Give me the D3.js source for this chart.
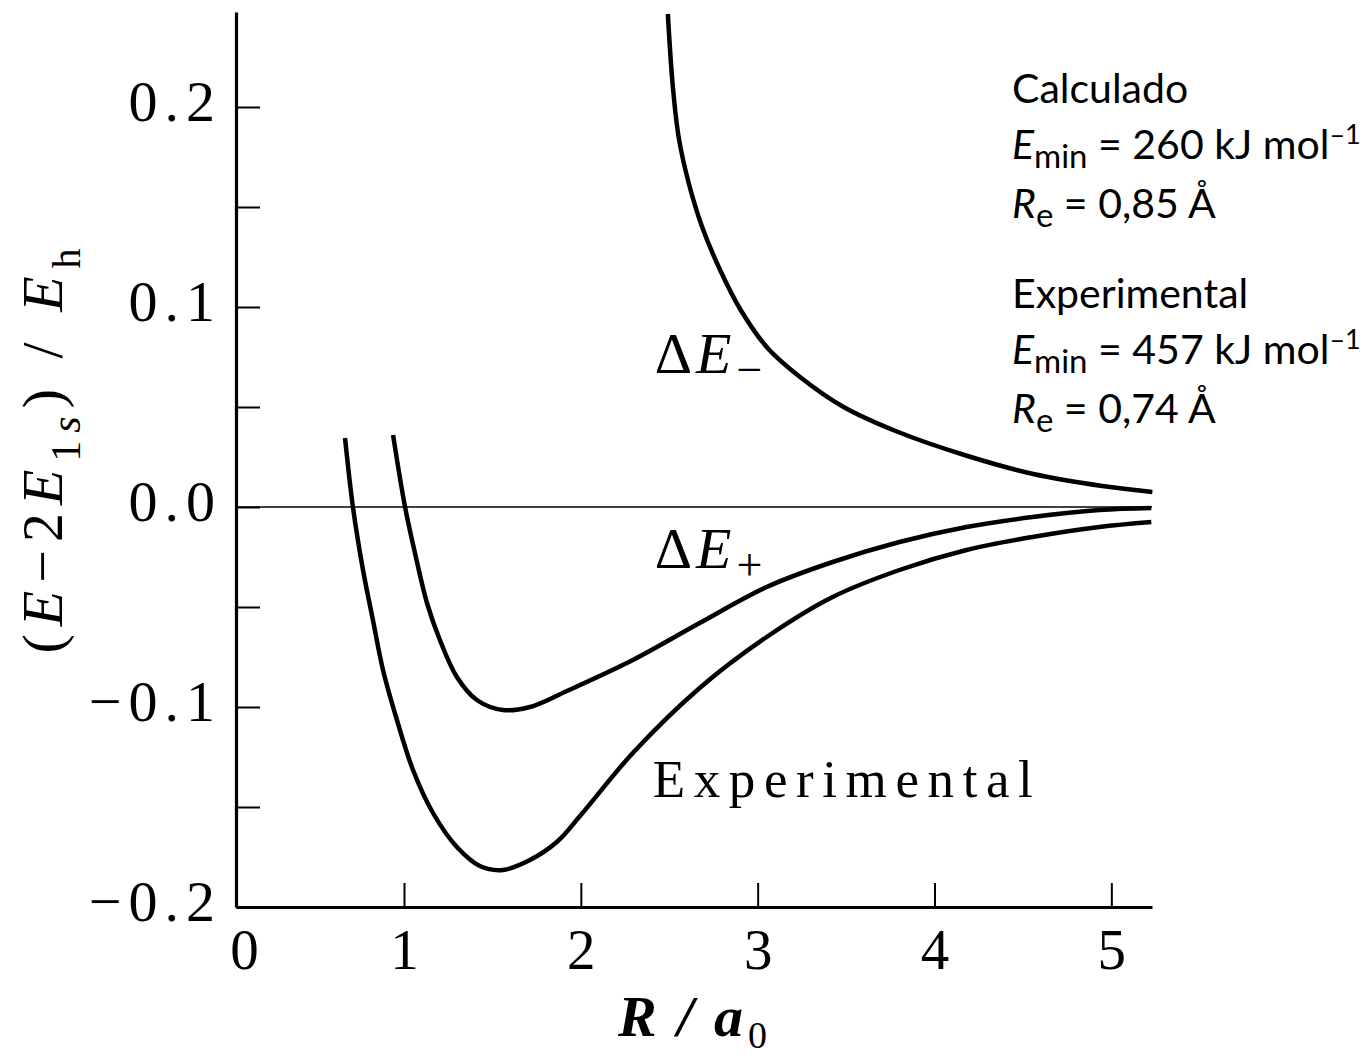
<!DOCTYPE html>
<html>
<head>
  <meta charset="utf-8">
  <style>
    body {
      margin: 0;
      background: white;
    }
    svg {
      display: block;
    }
    .serif {
      font-family: "Liberation Serif", "DejaVu Serif", serif;
    }
    .note {
      font-family: Lato, "Open Sans", sans-serif;
      font-size: 41px;
      fill: #000;
    }
  </style>
</head>
<body>
  <svg id="chart"></svg>
  <script src="https://cdn.jsdelivr.net/npm/d3@7/dist/d3.min.js"></script>
  <script>
    // values: R / a0 against (E - 2E1s) / Eh
    var expR = [0.649, 0.696, 0.756, 0.815, 0.875, 0.958, 1.051, 1.164, 1.299, 1.429, 1.559, 1.712, 1.864, 2.0, 2.294, 2.672, 3.051, 3.424, 3.802, 4.181, 4.554, 4.932, 5.226];
    var expE = [0.0345, 0, -0.0315, -0.0565, -0.0815, -0.1065, -0.1315, -0.153, -0.170, -0.1795, -0.1815, -0.1765, -0.1675, -0.154, -0.123, -0.0905, -0.065, -0.045, -0.0315, -0.0215, -0.015, -0.010, -0.0075];

    var plusR = [0.935, 1.006, 1.062, 1.130, 1.203, 1.299, 1.412, 1.559, 1.712, 1.921, 2.294, 2.672, 3.051, 3.424, 3.802, 4.181, 4.554, 4.932, 5.226];
    var plusE = [0.036, 0, -0.023, -0.048, -0.0665, -0.085, -0.0965, -0.1015, -0.100, -0.092, -0.0765, -0.058, -0.040, -0.0275, -0.0175, -0.010, -0.005, -0.0015, -0.0005];

    var minusR = [2.492, 2.520, 2.554, 2.610, 2.684, 2.785, 2.904, 3.056, 3.254, 3.486, 3.780, 4.169, 4.559, 4.949, 5.232];
    var minusE = [0.2465, 0.2105, 0.1845, 0.162, 0.1405, 0.119, 0.0985, 0.0795, 0.064, 0.050, 0.038, 0.026, 0.0165, 0.0105, 0.0075];

    var xTicks = [0, 1, 2, 3, 4, 5];
    var yTicks = [-0.2, -0.15, -0.1, -0.05, 0, 0.05, 0.1, 0.15, 0.2];
    var yLabelled = [-0.2, -0.1, 0, 0.1, 0.2];

    // text block on the right
    var noteTitles = ["Calculado", "Experimental"];
    var noteEmin = ["260", "457"];
    var noteRe = ["0,85", "0,74"];

    var width = 1372, height = 1060;
    var svg = d3.select("#chart")
      .attr("width", width)
      .attr("height", height);

    // the scan is slightly stretched between 0 and 1, hence the 3-point domain
    var x = d3.scaleLinear()
      .domain([0, 1, 5.23])
      .range([236, 404, 1152]);
    var y = d3.scaleLinear()
      .domain([-0.2, 0.2475])
      .range([907, 12]);

    // zero line
    svg.append("line")
      .attr("x1", x(0)).attr("x2", x(5.23))
      .attr("y1", y(0)).attr("y2", y(0))
      .attr("stroke", "#000")
      .attr("stroke-width", 1.6);

    // y axis, ticks pointing inwards
    var yAxis = d3.axisLeft(y)
      .tickValues(yTicks)
      .tickSizeInner(-24)
      .tickSizeOuter(0)
      .tickPadding(14)
      .tickFormat(function(d) {
        if (yLabelled.indexOf(d) < 0) return "";
        if (d === 0) return "0.0";
        return (d < 0 ? "\u2212" : "") + Math.abs(d).toFixed(1);
      });
    var gy = svg.append("g")
      .attr("transform", "translate(" + x(0) + ",0)")
      .call(yAxis);
    gy.select(".domain").attr("stroke-width", 3.2);
    gy.selectAll(".tick line").attr("stroke-width", 2);
    gy.selectAll("text")
      .attr("class", "serif")
      .attr("font-size", 58)
      .attr("letter-spacing", "7px")
      .attr("dy", "0.24em");

    // x axis
    var xAxis = d3.axisBottom(x)
      .tickValues(xTicks)
      .tickSizeInner(-24)
      .tickSizeOuter(0)
      .tickPadding(22)
      .tickFormat(d3.format("d"));
    var gx = svg.append("g")
      .attr("transform", "translate(0," + y(-0.2) + ")")
      .call(xAxis);
    gx.select(".domain").attr("stroke-width", 3.2);
    gx.selectAll(".tick line").attr("stroke-width", 2);
    gx.selectAll(".tick").filter(function(d) { return d === 0; }).select("line").remove();
    gx.selectAll("text")
      .attr("class", "serif")
      .attr("font-size", 57)
      .attr("dx", function(d) { return d === 0 ? 8 : 0; });

    // curves
    var line = d3.line()
      .x(function(d) { return x(d[0]); })
      .y(function(d) { return y(d[1]); })
      .curve(d3.curveCatmullRom.alpha(0.5));

    [d3.zip(expR, expE), d3.zip(plusR, plusE), d3.zip(minusR, minusE)].forEach(function(pts) {
      svg.append("path")
        .datum(pts)
        .attr("fill", "none")
        .attr("stroke", "#000")
        .attr("stroke-width", 4.5)
        .attr("stroke-linecap", "butt")
        .attr("d", line);
    });

    // curve labels
    function deltaLabel(r, e, sub) {
      var t = svg.append("text")
        .attr("class", "serif")
        .attr("x", x(r))
        .attr("y", y(e))
        .attr("font-size", 58);
      t.append("tspan").text("\u0394");
      t.append("tspan").attr("font-style", "italic").attr("dx", 4).text("E");
      t.append("tspan").attr("font-size", 46).attr("dx", 5).attr("dy", 12).text(sub);
    }
    deltaLabel(2.418, 0.067, "\u2212");
    deltaLabel(2.418, -0.0305, "+");

    svg.append("text")
      .attr("class", "serif")
      .attr("x", x(2.407))
      .attr("y", y(-0.145))
      .attr("font-size", 53)
      .attr("textLength", 380)
      .attr("lengthAdjust", "spacing")
      .text("Experimental");

    // axis titles
    var xt = svg.append("text")
      .attr("class", "serif")
      .attr("x", (x.range()[0] + x.range()[2]) / 2)
      .attr("y", 1036)
      .attr("text-anchor", "middle")
      .attr("font-size", 58)
      .attr("font-style", "italic")
      .attr("font-weight", "bold")
      .attr("letter-spacing", "3px");
    xt.append("tspan").text("R / a");
    xt.append("tspan").attr("font-size", 38).attr("font-style", "normal").attr("font-weight", "normal").attr("dx", 2).attr("dy", 12).text("0");

    var yt = svg.append("text")
      .attr("class", "serif")
      .attr("transform", "translate(62," + y(0.03) + ") rotate(-90)")
      .attr("text-anchor", "middle")
      .attr("font-size", 58)
      .attr("letter-spacing", "8px");
    yt.append("tspan").text("(");
    yt.append("tspan").attr("font-style", "italic").text("E");
    yt.append("tspan").text("\u22122");
    yt.append("tspan").attr("font-style", "italic").text("E");
    yt.append("tspan").attr("font-size", 42).attr("dy", 18).text("1");
    yt.append("tspan").attr("font-size", 42).attr("font-style", "italic").text("s");
    yt.append("tspan").attr("dy", -18).text(")");
    yt.append("tspan").text(" / ");
    yt.append("tspan").attr("font-style", "italic").text("E");
    yt.append("tspan").attr("font-size", 40).attr("dy", 18).text("h");

    // notes
    var noteX = 1012;
    var noteBase = [103, 308];
    noteTitles.forEach(function(title, i) {
      var b = noteBase[i];
      svg.append("text").attr("class", "note")
        .attr("x", noteX).attr("y", b).text(title);

      var t1 = svg.append("text").attr("class", "note")
        .attr("x", noteX).attr("y", b + 56);
      t1.append("tspan").attr("font-style", "italic").text("E");
      t1.append("tspan").attr("font-size", 33).attr("dy", 9).text("min");
      t1.append("tspan").attr("dy", -9).text(" = " + noteEmin[i] + " kJ mol");
      t1.append("tspan").attr("font-size", 27).attr("dy", -15).text("\u20131");

      var t2 = svg.append("text").attr("class", "note")
        .attr("x", noteX).attr("y", b + 115);
      t2.append("tspan").attr("font-style", "italic").text("R");
      t2.append("tspan").attr("font-size", 33).attr("dy", 9).text("e");
      t2.append("tspan").attr("dy", -9).text(" = " + noteRe[i] + " \u00C5");
    });
  </script>
</body>
</html>
